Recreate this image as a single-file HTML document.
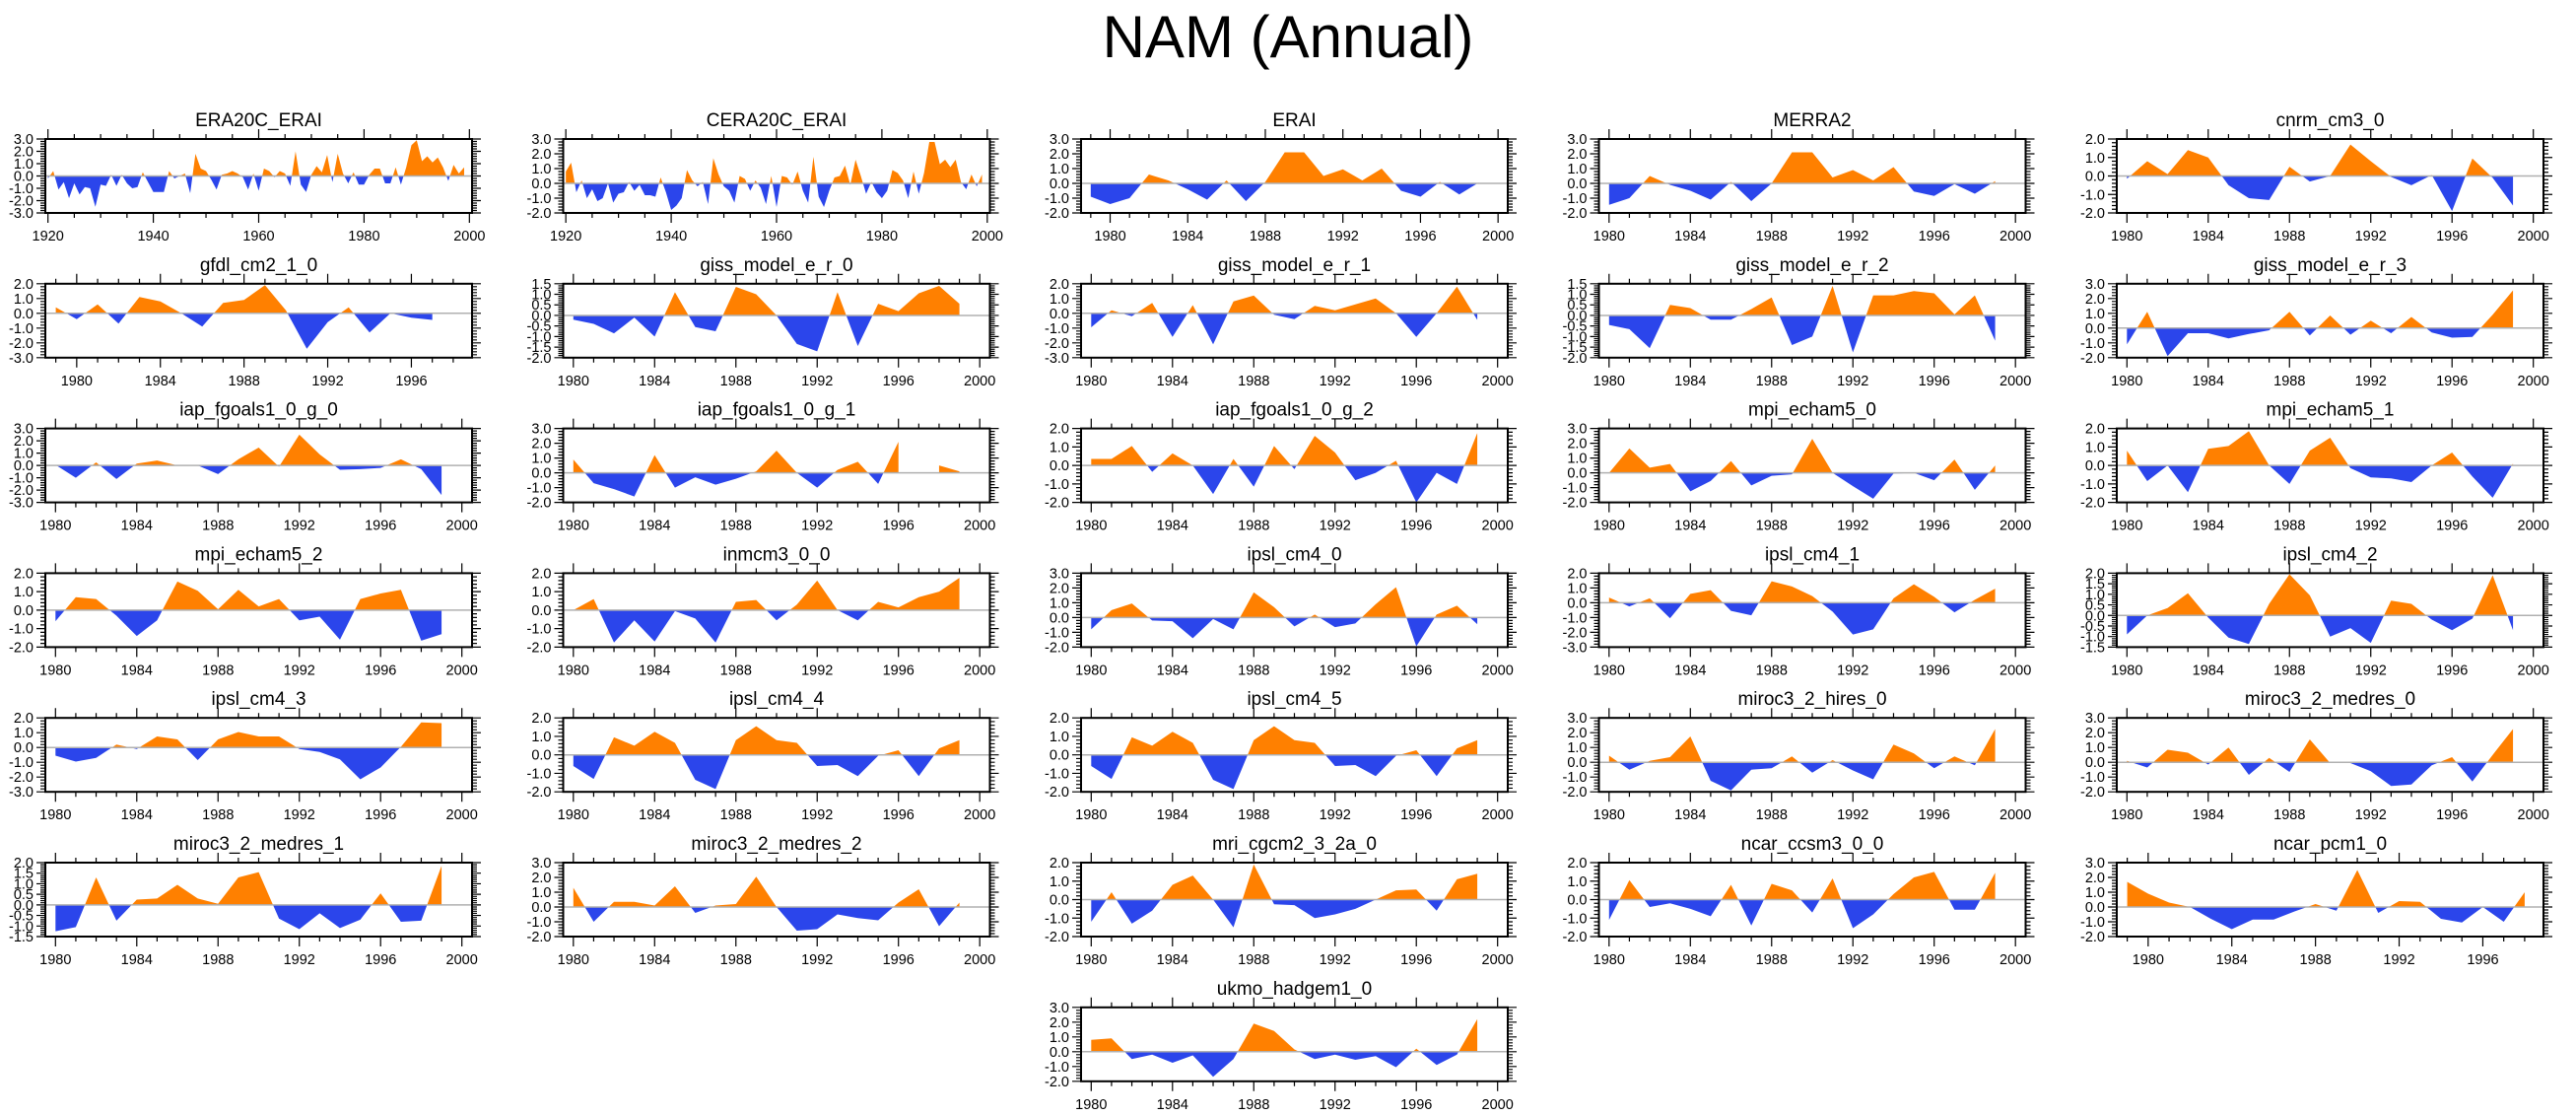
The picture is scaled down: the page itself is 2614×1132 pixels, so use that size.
<!DOCTYPE html>
<html><head><meta charset="utf-8"><title>NAM (Annual)</title>
<style>
html,body{margin:0;padding:0;background:#fff;}
svg{display:block;font-family:"Liberation Sans",Arial,sans-serif;}
</style></head>
<body>
<svg id="chart" width="2614" height="1132" viewBox="0 0 2614 1132" xmlns="http://www.w3.org/2000/svg">
<text x="1307" y="58" text-anchor="middle" font-size="60">NAM (Annual)</text>
<g id="panels"></g>
</svg>
<script>
const panelNames = ["ERA20C_ERAI","CERA20C_ERAI","ERAI","MERRA2","cnrm_cm3_0",
"gfdl_cm2_1_0","giss_model_e_r_0","giss_model_e_r_1","giss_model_e_r_2","giss_model_e_r_3",
"iap_fgoals1_0_g_0","iap_fgoals1_0_g_1","iap_fgoals1_0_g_2","mpi_echam5_0","mpi_echam5_1",
"mpi_echam5_2","inmcm3_0_0","ipsl_cm4_0","ipsl_cm4_1","ipsl_cm4_2",
"ipsl_cm4_3","ipsl_cm4_4","ipsl_cm4_5","miroc3_2_hires_0","miroc3_2_medres_0",
"miroc3_2_medres_1","miroc3_2_medres_2","mri_cgcm2_3_2a_0","ncar_ccsm3_0_0","ncar_pcm1_0",
"ukmo_hadgem1_0"];
const startYears = [1920,1920,1979,1980,1980, 1979,1980,1980,1980,1980, 1980,1980,1980,1980,1980,
1980,1980,1980,1980,1980, 1980,1980,1980,1980,1980, 1980,1980,1980,1980,1979, 1980];
const yMins = [-3,-2,-2,-2,-2, -3,-2,-3,-2,-2, -3,-2,-2,-2,-2, -2,-2,-2,-3,-1.5, -3,-2,-2,-2,-2, -1.5,-2,-2,-2,-2, -2];
const yMaxs = [3,3,3,3,2, 2,1.5,2,1.5,3, 3,3,2,3,2, 2,2,3,2,2, 2,2,2,3,3, 2,3,2,2,3, 3];
const xMins = [1919.5,1919.5,1978.5,1979.5,1979.5, 1978.5,1979.5,1979.5,1979.5,1979.5, 1979.5,1979.5,1979.5,1979.5,1979.5,
1979.5,1979.5,1979.5,1979.5,1979.5, 1979.5,1979.5,1979.5,1979.5,1979.5, 1979.5,1979.5,1979.5,1979.5,1978.5, 1979.5];
const xMaxs = [2000.5,2000.5,2000.5,2000.5,2000.5, 1998.9,2000.5,2000.5,2000.5,2000.5, 2000.5,2000.5,2000.5,2000.5,2000.5,
2000.5,2000.5,2000.5,2000.5,2000.5, 2000.5,2000.5,2000.5,2000.5,2000.5, 2000.5,2000.5,2000.5,2000.5,1998.9, 2000.5];

const era20c = [-0.2,0.4,-1.1,-0.5,-1.8,-0.6,-1.5,-0.9,-1.0,-2.5,-0.7,-0.8,0.1,-0.8,0.1,-0.6,-1.0,-0.9,0.3,-0.5,
-1.3,-1.3,-1.3,0.4,-0.2,0.0,0.2,-1.4,1.8,0.6,0.4,-0.3,-1.1,0.1,0.2,0.4,0.2,-0.1,-1.1,0.2,
-1.2,0.6,0.4,-0.1,0.4,0.2,-0.8,2.0,-0.7,-1.3,0.1,0.8,0.3,1.7,-0.5,1.8,0.2,-0.6,0.3,-0.7,
-0.7,0.1,0.6,0.6,-0.6,-0.6,0.7,-0.7,0.7,2.5,2.9,1.2,1.6,1.1,1.5,0.7,-0.4,0.9,0.2,0.7];
const cera20c = [0.8,1.4,-0.6,0.2,-1.0,-0.4,-1.2,-1.0,0.0,-1.3,-0.7,-0.6,0.1,-0.5,-0.1,-0.8,-0.8,-0.9,0.4,-0.6,
-1.8,-1.5,-1.0,0.9,0.2,-0.2,0.1,-1.4,1.7,0.6,-0.2,-0.5,-1.3,0.5,0.3,-0.5,0.2,-0.3,-1.4,0.5,
-1.6,0.5,0.4,-0.1,0.8,-0.5,-1.3,1.8,-0.9,-1.6,-0.5,0.4,0.5,1.2,-0.1,1.6,0.5,-0.7,0.1,-0.6,
-1.0,-0.5,0.9,0.7,0.2,-1.0,0.8,-0.7,0.7,2.8,2.8,1.3,1.6,1.1,1.6,0.1,-0.4,0.6,-0.2,0.6];
const erai = [-0.9,-1.4,-1.0,0.6,0.2,-0.4,-1.1,0.2,-1.2,0.1,2.1,2.1,0.5,0.95,0.2,1.0,-0.5,-0.9,0.1,-0.75,0.05];
const merra2 = [-1.45,-1.0,0.5,-0.1,-0.5,-1.1,0.1,-1.2,0.0,2.1,2.1,0.4,0.9,0.2,1.1,-0.55,-0.85,-0.05,-0.7,0.15];
const cnrm = [-0.15,0.8,0.1,1.4,1.0,-0.5,-1.2,-1.3,0.5,-0.3,0.0,1.7,0.8,-0.05,-0.5,0.05,-1.9,0.95,-0.1,-1.6];
const gfdl = [0.4,-0.4,0.6,-0.7,1.1,0.8,0.0,-0.9,0.7,0.9,1.9,0.2,-2.4,-0.6,0.4,-1.3,0.0,-0.3,-0.45];
const giss0 = [-0.2,-0.4,-0.85,-0.1,-1.0,1.1,-0.55,-0.75,1.35,1.0,0.0,-1.35,-1.7,1.1,-1.45,0.55,0.2,1.05,1.4,0.55];
const giss1 = [-0.95,0.2,-0.2,0.7,-1.6,0.55,-2.1,0.8,1.2,-0.1,-0.4,0.5,0.2,0.6,1.0,0.0,-1.6,0.0,1.8,-0.45];
const giss2 = [-0.45,-0.65,-1.55,0.5,0.35,-0.2,-0.2,0.3,0.85,-1.4,-1.0,1.4,-1.75,0.95,0.95,1.15,1.05,0.05,0.95,-1.2];
const giss3 = [-1.1,1.1,-1.9,-0.35,-0.35,-0.7,-0.4,-0.15,1.1,-0.5,0.85,-0.45,0.5,-0.35,0.75,-0.3,-0.65,-0.6,0.9,2.55];
const iap0 = [0.05,-1.0,0.25,-1.1,0.15,0.4,0.0,0.0,-0.7,0.5,1.45,-0.1,2.5,0.9,-0.35,-0.3,-0.2,0.5,-0.3,-2.4];
const iap1 = [0.9,-0.7,-1.1,-1.6,1.2,-1.0,-0.3,-0.8,-0.4,0.1,1.5,0.0,-1.0,0.2,0.75,-0.75,2.1,null,0.5,0.1];
const iap2 = [0.35,0.35,1.05,-0.35,0.65,0.0,-1.55,0.35,-1.15,1.05,-0.2,1.6,0.7,-0.8,-0.4,0.25,-2.0,-0.4,-1.0,1.75];
const mpi0 = [0.0,1.65,0.35,0.6,-1.25,-0.55,0.8,-0.85,-0.2,-0.1,2.3,0.0,-0.9,-1.75,-0.05,0.0,-0.5,0.9,-1.15,0.5];
const mpi1 = [0.8,-0.85,0.0,-1.45,0.9,1.05,1.85,0.0,-1.0,0.8,1.5,-0.15,-0.65,-0.7,-0.9,0.0,0.7,-0.6,-1.75,0.1];
const mpi2 = [-0.6,0.7,0.6,-0.3,-1.4,-0.55,1.55,1.05,0.05,1.1,0.2,0.6,-0.55,-0.35,-1.6,0.6,0.9,1.1,-1.65,-1.3];
const inmcm = [0.0,0.6,-1.75,-0.55,-1.7,-0.05,-0.45,-1.75,0.45,0.55,-0.55,0.3,1.6,0.0,-0.55,0.45,0.15,0.7,1.0,1.75];
const ipsl0 = [-0.8,0.5,0.95,-0.2,-0.25,-1.4,-0.1,-0.8,1.7,0.7,-0.6,0.2,-0.65,-0.4,0.9,2.05,-1.95,0.2,0.8,-0.45];
const ipsl1 = [0.35,-0.25,0.3,-1.05,0.6,0.85,-0.55,-0.85,1.45,1.1,0.45,-0.6,-2.15,-1.8,0.3,1.25,0.4,-0.65,0.2,0.95];
const ipsl2 = [-0.9,0.0,0.35,1.05,-0.1,-1.05,-1.35,0.55,1.95,0.95,-1.0,-0.6,-1.3,0.7,0.55,-0.2,-0.7,-0.15,1.9,-0.7];
const ipsl3 = [-0.55,-0.95,-0.7,0.2,-0.1,0.75,0.55,-0.85,0.55,1.05,0.75,0.75,-0.1,-0.3,-0.8,-2.15,-1.35,0.05,1.7,1.65];
const ipsl4 = [-0.6,-1.3,0.95,0.5,1.25,0.65,-1.35,-1.85,0.8,1.55,0.8,0.65,-0.6,-0.55,-1.15,-0.05,0.25,-1.15,0.35,0.8];
const ipsl5 = [-0.6,-1.3,0.95,0.5,1.25,0.65,-1.35,-1.85,0.8,1.55,0.8,0.65,-0.6,-0.55,-1.15,-0.05,0.25,-1.15,0.35,0.8];
const hires = [0.45,-0.5,0.1,0.35,1.75,-1.25,-1.9,-0.5,-0.4,0.4,-0.7,0.15,-0.55,-1.15,1.2,0.6,-0.4,0.4,-0.2,2.25];
const medres0 = [0.1,-0.35,0.85,0.65,-0.15,1.0,-0.85,0.3,-0.65,1.55,-0.05,-0.05,-0.6,-1.6,-1.5,-0.2,0.35,-1.3,0.5,2.25];
const medres1 = [-1.25,-1.05,1.3,-0.75,0.25,0.3,0.95,0.3,0.05,1.3,1.55,-0.65,-1.15,-0.4,-1.1,-0.7,0.55,-0.8,-0.75,1.85];
const medres2 = [1.3,-1.0,0.35,0.35,0.1,1.4,-0.4,0.1,0.2,2.05,0.0,-1.6,-1.5,-0.5,-0.75,-0.9,0.3,1.2,-1.3,0.3];
const mri = [-1.2,0.4,-1.3,-0.6,0.8,1.3,0.0,-1.5,1.9,-0.25,-0.3,-1.0,-0.8,-0.5,0.0,0.5,0.55,-0.6,1.1,1.4];
const ccsm = [-1.1,1.05,-0.4,-0.2,-0.5,-0.9,0.8,-1.4,0.85,0.5,-0.7,1.15,-1.55,-0.8,0.3,1.2,1.5,-0.55,-0.55,1.45];
const pcm1 = [1.7,0.9,0.3,0.0,-0.8,-1.5,-0.85,-0.85,-0.3,0.2,-0.25,2.5,-0.4,0.4,0.35,-0.8,-1.05,0.0,-1.0,1.0];
const ukmo = [0.8,0.9,-0.5,-0.2,-0.75,-0.25,-1.7,-0.5,1.9,1.4,0.15,-0.5,-0.2,-0.55,-0.3,-1.05,0.2,-0.9,-0.2,2.2];

const seriesList = [era20c,cera20c,erai,merra2,cnrm,gfdl,giss0,giss1,giss2,giss3,iap0,iap1,iap2,mpi0,mpi1,
mpi2,inmcm,ipsl0,ipsl1,ipsl2,ipsl3,ipsl4,ipsl5,hires,medres0,medres1,medres2,mri,ccsm,pcm1,ukmo];

const NS = "http://www.w3.org/2000/svg";
const root = document.getElementById("panels");
function mk(tag, attrs, parent){
  const e = document.createElementNS(NS, tag);
  for (const k in attrs) e.setAttribute(k, attrs[k]);
  parent.appendChild(e);
  return e;
}
const FW = 433, FH = 75;
function fmt(v){ return (Math.abs(v) < 1e-9 ? 0 : v).toFixed(1); }

for (let p = 0; p < panelNames.length; p++) {
  const row = Math.floor(p / 5);
  const col = p === 30 ? 2 : p % 5;
  const L = 46 + col * 525.5, T = 141 + row * 146.8;
  const x0 = xMins[p], x1 = xMaxs[p], y0 = yMins[p], y1 = yMaxs[p];
  const xs = v => L + (v - x0) / (x1 - x0) * FW;
  const ys = v => T + FH - (v - y0) / (y1 - y0) * FH;
  const g = mk("g", {}, root);
  
  

  const title = mk("text", {x: L + FW / 2, y: T - 13, "text-anchor": "middle", "font-size": 19}, g);
  title.textContent = panelNames[p];
  
  

  const vals = seriesList[p], sy = startYears[p];
  const runs = []; let cur = [];
  vals.forEach((v, i) => { if (v === null) { if (cur.length) runs.push(cur); cur = []; } else cur.push([sy + i, v]); });
  if (cur.length) runs.push(cur);
  runs.forEach(run => {
    const pts = [];
    for (let i = 0; i < run.length; i++) {
      pts.push(run[i]);
      if (i < run.length - 1) {
        const a = run[i], b = run[i + 1];
        if ((a[1] > 0 && b[1] < 0) || (a[1] < 0 && b[1] > 0)) {
          const t = a[1] / (a[1] - b[1]);
          pts.push([a[0] + t * (b[0] - a[0]), 0]);
        }
      }
    }
    [["pos", "#ff8000", v => Math.max(v, 0)], ["neg", "#2b45eb", v => Math.min(v, 0)]].forEach(cfg => {
      let d = "M" + xs(pts[0][0]).toFixed(2) + "," + ys(0).toFixed(2);
      pts.forEach(q => { d += "L" + xs(q[0]).toFixed(2) + "," + ys(cfg[2](q[1])).toFixed(2); });
      d += "L" + xs(pts[pts.length - 1][0]).toFixed(2) + "," + ys(0).toFixed(2) + "Z";
      const path = mk("path", {d: d, fill: cfg[1], stroke: "none"}, g);
      
      
    });
  });

  const zl = mk("line", {x1: L, x2: L + FW, y1: ys(0), y2: ys(0), stroke: "#b0b0b0", "stroke-width": 1.5}, g);
  
  

  const fr = mk("rect", {x: L, y: T, width: FW, height: FH, fill: "none", stroke: "#000", "stroke-width": 2}, g);
  
  

  const step = (Math.abs(y0 * 2 % 2) === 1 || Math.abs(y1 * 2 % 2) === 1) ? 0.5 : 1.0;
  const minor = step / 5;
  let td = "";
  for (let v = y0; v <= y1 + 1e-6; v += minor) {
    const isMaj = Math.abs(v / step - Math.round(v / step)) < 1e-6;
    const len = isMaj ? 9 : 5, yy = ys(v).toFixed(2);
    td += "M" + (L - len) + "," + yy + "H" + L + "M" + (L + FW) + "," + yy + "H" + (L + FW + len);
  }
  for (let v = y0; v <= y1 + 1e-6; v += step) {
    const t = mk("text", {x: L - 12, y: ys(v) + 5, "text-anchor": "end", "font-size": 14.5}, g);
    t.textContent = fmt(v);
    
    
  }
  const long = (x1 - x0) > 40;
  const majStep = long ? 20 : 4, minStep = long ? 5 : 1;
  const first = long ? 1920 : 1980;
  for (let yr = Math.ceil(x0); yr <= x1; yr++) {
    if ((yr - first) % minStep !== 0) continue;
    const isMaj = (yr - first) % majStep === 0 && yr >= first;
    const len = isMaj ? 10 : 5, xx = xs(yr).toFixed(2);
    td += "M" + xx + "," + (T - len) + "V" + T + "M" + xx + "," + (T + FH) + "V" + (T + FH + len);
    if (isMaj) {
      const t = mk("text", {x: xx, y: T + FH + 28, "text-anchor": "middle", "font-size": 14.5}, g);
      t.textContent = yr;
      
      
    }
  }
  const tk = mk("path", {d: td, stroke: "#000", "stroke-width": 1.2, fill: "none"}, g);
  
  
}
</script>
</body></html>
